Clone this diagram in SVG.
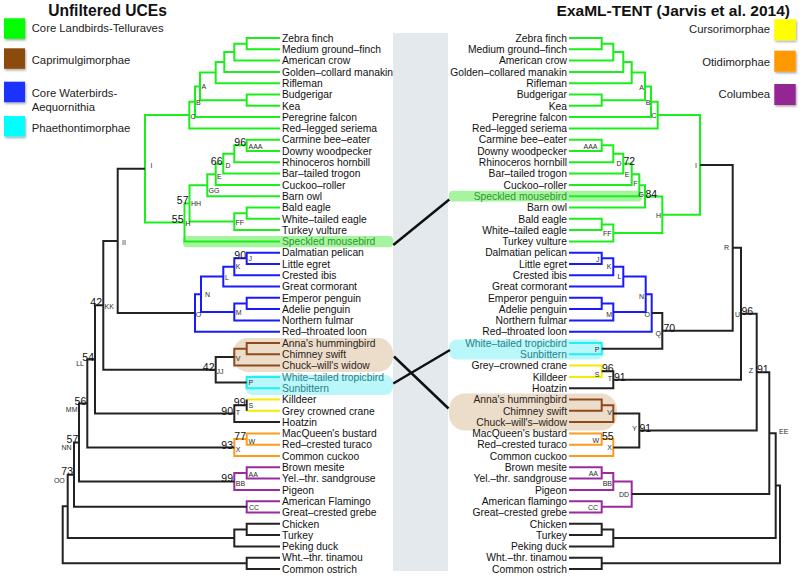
<svg xmlns="http://www.w3.org/2000/svg" width="800" height="577" viewBox="0 0 800 577">
<defs>
<filter id="sh" x="-20%" y="-20%" width="150%" height="150%"><feDropShadow dx="1" dy="1.5" stdDeviation="0.8" flood-color="#000" flood-opacity="0.35"/></filter>
</defs>
<style>
text{font-family:"Liberation Sans",Arial,sans-serif;fill:#111}
.t{font-size:10.3px}
.r{text-anchor:end}
.n{font-size:7px;fill:#2a2a2a}
.s{font-size:10.5px}
.lg{font-size:11.3px;fill:#222}
.ti{font-size:15.6px;font-weight:bold;text-anchor:middle}
.b{fill:none;stroke-width:2;stroke-linejoin:miter;stroke-linecap:butt}
.k{stroke:#222}
.gr{stroke:#1aef1a}
.bl{stroke:#1a1aff}
.br{stroke:#8f4a1c}
.cy{stroke:#22eef5}
.ye{stroke:#f2ee00}
.or{stroke:#ff9a1a}
.pu{stroke:#9a2aa0}
.x{fill:none;stroke:#111;stroke-width:2.5}
.mb{fill:#2a9a2a}
.pt{fill:#2c8288}
.cp{fill:#2b2520}
</style>
<rect width="800" height="577" fill="#fff"/>
<rect id="band" x="393" y="33" width="55" height="538" fill="#e3e9ec"/>
<g id="highlights">
<rect x="183" y="236" width="210" height="11.3" rx="4" fill="#a6f3a0"/>
<rect x="233" y="338" width="160" height="34" rx="15" fill="#ecdcca"/>
<rect x="245" y="375" width="148" height="20" rx="8" fill="#b9f7fa"/>
<rect x="449" y="190.8" width="193" height="10.8" rx="4" fill="#a6f3a0"/>
<rect x="449" y="339.5" width="155" height="20" rx="8" fill="#b9f7fa"/>
<rect x="449" y="393.5" width="168" height="37" rx="16" fill="#ecdcca"/>
</g>
<g id="connectors">
<path class="b gr" d="M280 38H246.7V49.3H280M246.7 43.65H234.3V60.6H280M234.3 52.1H224.3V71.9H280M224.3 62H215.7V83.2H280M280 94.5H246.7V105.8H280M215.7 72.6H200V100.15H246.7M200 86.4H195V117.1H280M195 101.75H189.3V128.4H280M280 139.7H246.7V151H280M246.7 145.35H234.3V162.3H280M234.3 153.8H223.3V173.6H280M223.3 163.7H215.7V184.9H280M215.7 174.3H207.3V196.2H280M280 207.5H246.7V218.8H280M246.7 213.15H234.3V230.1H280M207.3 185.25H189.5V221.6H234.3M189.5 203.4H184.5V241.4H280M189.3 115.1H145V222.4H184.5"/>
<path class="b bl" d="M280 252.7H246.7V263.9H280M246.7 258.3H234.3V275.2H280M234.3 266.75H223.3V286.5H280M280 297.8H246.7V309.1H280M246.7 303.45H234.3V320.4H280M223.3 276.6H201V311.9H234.3M201 294.25H195V331.7H280"/>
<path class="b br" d="M280 343H246.7V354.3H280M246.7 348.65H234.3V365.6H280"/>
<path class="b cy" d="M280 376.9H246.7V388.2H280"/>
<path class="b ye" d="M246.7 399.5H280M246.7 410.8H280"/>
<path class="b or" d="M280 433.4H246.7V444.7H280M246.7 439.05H234.3V456H280"/>
<path class="b pu" d="M280 467.3H246.7V478.6H280M246.7 472.95H234.3V489.9H280M280 501.2H246.7V512.5H280"/>
<path class="b k" d="M145 168.75H117.7V313H195M234.3 357.1H215.7V382.55H246.7M117.7 240.9H103.3V369.8H215.7M246.7 399.5V410.8M246.7 405.15H234.3V422.1H280M103.3 305.35H95V413.6H234.3M95 359.5H87.3V447.5H234.3M87.3 403.5H79V481.4H234.3M79 442.45H74V506.85H246.7M280 523.8H246.7V535.1H280M246.7 529.45H234.3V546.4H280M74 474.65H67.7V537.9H234.3M280 557.7H246.7V569H280M67.7 506.3H62.7V563.35H246.7"/>
<path class="b gr" d="M569 38H601.7V49.3H569M601.7 43.65H613.3V60.6H569M613.3 52.1H623.3V71.9H569M623.3 62H631.7V83.2H569M569 94.5H601.7V105.8H569M631.7 72.6H645V100.15H601.7M645 86.4H651V117.1H569M651 101.75H657.7V128.4H569M569 139.7H601.7V151H569M601.7 145.35H613.3V162.3H569M613.3 153.8H623.3V173.6H569M623.3 163.7H631.7V184.9H569M631.7 174.3H639.3V196.2H569M639.3 185.25H645V207.5H569M569 218.8H601.7V230.1H569M601.7 224.45H613.3V241.4H569M645 196.4H662.3V232.9H613.3M657.7 115.1H700V214.65H662.3"/>
<path class="b bl" d="M569 252.7H601.7V263.9H569M601.7 258.3H613.3V275.2H569M613.3 266.75H623.3V286.5H569M569 297.8H601.7V309.1H569M601.7 303.45H613.3V320.4H569M623.3 276.6H645.7V311.9H613.3M645.7 294.25H651.7V331.7H569"/>
<path class="b cy" d="M569 343H601.7V354.3H569"/>
<path class="b ye" d="M569 365.6H601.7V376.9H569"/>
<path class="b br" d="M569 399.5H601.7V410.8H569M601.7 405.15H613.3V422.1H569"/>
<path class="b or" d="M569 433.4H601.7V444.7H569M601.7 439.05H613.3V456H569"/>
<path class="b pu" d="M569 467.3H601.7V478.6H569M601.7 472.95H613.3V489.9H569M569 501.2H601.7V512.5H569M613.3 481.4H631.7V506.85H601.7"/>
<path class="b k" d="M651.7 313H662.3V348.65H601.7M700 164.9H732.7V330.8H662.3M601.7 371.25H613.3V388.2H569M732.7 247.85H741V379.7H613.3M613.3 413.6H639.3V447.5H613.3M741 313.8H756.7V430.55H639.3M756.7 372.2H769.3V494.1H631.7M569 523.8H601.7V535.1H569M601.7 529.45H613.3V546.4H569M769.3 433.15H775.7V537.9H613.3M569 557.7H601.7V569H569M775.7 485.5H780V563.35H601.7"/>
<path class="x" d="M393.3 245L449.3 199.5M394 356.5L448.5 408.5M393.3 383.5L450 350"/>
</g>
<g id="titles">
<text class="ti" x="107.5" y="15.5">Unfiltered UCEs</text>
<text class="ti" x="673.3" y="15.5" style="font-size:15.5px">ExaML-TENT (Jarvis et al. 2014)</text>
</g>
<g id="legend-left">
<g id="lg-telluraves"><rect x="4" y="18.3" width="21" height="20.5" fill="#00ff00" filter="url(#sh)"/><text class="lg" x="31.7" y="32.4">Core Landbirds-Telluraves</text></g>
<g id="lg-caprimulgimorphae"><rect x="4" y="48.3" width="21" height="20.5" fill="#8c4c10" filter="url(#sh)"/><text class="lg" x="31.7" y="64.1">Caprimulgimorphae</text></g>
<g id="lg-aequornithia"><rect x="4" y="81.7" width="21" height="20.5" fill="#1a33ff" filter="url(#sh)"/><text class="lg" x="31.7" y="96.8">Core Waterbirds-</text><text class="lg" x="31.7" y="110.8">Aequornithia</text></g>
<g id="lg-phaethontimorphae"><rect x="4" y="116" width="21" height="20.5" fill="#00ffff" filter="url(#sh)"/><text class="lg" x="31.7" y="131.8">Phaethontimorphae</text></g>
</g>
<g id="legend-right">
<g id="lg-cursorimorphae"><rect x="774.3" y="19.3" width="21.4" height="21" fill="#ffff00" filter="url(#sh)"/><text class="lg r" x="770" y="33.4">Cursorimorphae</text></g>
<g id="lg-otidimorphae"><rect x="774.3" y="50.7" width="21.4" height="21" fill="#ff9900" filter="url(#sh)"/><text class="lg r" x="770" y="65.8">Otidimorphae</text></g>
<g id="lg-columbea"><rect x="774.3" y="84" width="21.4" height="21" fill="#942894" filter="url(#sh)"/><text class="lg r" x="770" y="98.1">Columbea</text></g>
</g>
<g id="left-taxa" class="t">
<g id="L01"><text class="t" x="282" y="41.7">Zebra finch</text></g>
<g id="L02"><text class="t" x="282" y="53">Medium ground–finch</text></g>
<g id="L03"><text class="t" x="282" y="64.3">American crow</text></g>
<g id="L04"><text class="t" x="282" y="75.6">Golden–collard manakin</text></g>
<g id="L05"><text class="t" x="282" y="86.9">Rifleman</text></g>
<g id="L06"><text class="t" x="282" y="98.2">Budgerigar</text></g>
<g id="L07"><text class="t" x="282" y="109.5">Kea</text></g>
<g id="L08"><text class="t" x="282" y="120.8">Peregrine falcon</text></g>
<g id="L09"><text class="t" x="282" y="132.1">Red–legged seriema</text></g>
<g id="L10"><text class="t" x="282" y="143.4">Carmine bee–eater</text></g>
<g id="L11"><text class="t" x="282" y="154.7">Downy woodpecker</text></g>
<g id="L12"><text class="t" x="282" y="166">Rhinoceros hornbill</text></g>
<g id="L13"><text class="t" x="282" y="177.3">Bar–tailed trogon</text></g>
<g id="L14"><text class="t" x="282" y="188.6">Cuckoo–roller</text></g>
<g id="L15"><text class="t" x="282" y="199.9">Barn owl</text></g>
<g id="L16"><text class="t" x="282" y="211.2">Bald eagle</text></g>
<g id="L17"><text class="t" x="282" y="222.5">White–tailed eagle</text></g>
<g id="L18"><text class="t" x="282" y="233.8">Turkey vulture</text></g>
<g id="L19"><text class="t mb" x="282" y="245.1">Speckled mousebird</text></g>
<g id="L20"><text class="t" x="282" y="256.4">Dalmatian pelican</text></g>
<g id="L21"><text class="t" x="282" y="267.6">Little egret</text></g>
<g id="L22"><text class="t" x="282" y="278.9">Crested ibis</text></g>
<g id="L23"><text class="t" x="282" y="290.2">Great cormorant</text></g>
<g id="L24"><text class="t" x="282" y="301.5">Emperor penguin</text></g>
<g id="L25"><text class="t" x="282" y="312.8">Adelie penguin</text></g>
<g id="L26"><text class="t" x="282" y="324.1">Northern fulmar</text></g>
<g id="L27"><text class="t" x="282" y="335.4">Red–throated loon</text></g>
<g id="L28"><text class="t cp" x="282" y="346.7">Anna's hummingbird</text></g>
<g id="L29"><text class="t cp" x="282" y="358">Chimney swift</text></g>
<g id="L30"><text class="t cp" x="282" y="369.3">Chuck–will's widow</text></g>
<g id="L31"><text class="t pt" x="282" y="380.6">White–tailed tropicbird</text></g>
<g id="L32"><text class="t pt" x="282" y="391.9">Sunbittern</text></g>
<g id="L33"><text class="t" x="282" y="403.2">Killdeer</text></g>
<g id="L34"><text class="t" x="282" y="414.5">Grey crowned crane</text></g>
<g id="L35"><text class="t" x="282" y="425.8">Hoatzin</text></g>
<g id="L36"><text class="t" x="282" y="437.1">MacQueen's bustard</text></g>
<g id="L37"><text class="t" x="282" y="448.4">Red–crested turaco</text></g>
<g id="L38"><text class="t" x="282" y="459.7">Common cuckoo</text></g>
<g id="L39"><text class="t" x="282" y="471">Brown mesite</text></g>
<g id="L40"><text class="t" x="282" y="482.3">Yel.–thr. sandgrouse</text></g>
<g id="L41"><text class="t" x="282" y="493.6">Pigeon</text></g>
<g id="L42"><text class="t" x="282" y="504.9">American Flamingo</text></g>
<g id="L43"><text class="t" x="282" y="516.2">Great–crested grebe</text></g>
<g id="L44"><text class="t" x="282" y="527.5">Chicken</text></g>
<g id="L45"><text class="t" x="282" y="538.8">Turkey</text></g>
<g id="L46"><text class="t" x="282" y="550.1">Peking duck</text></g>
<g id="L47"><text class="t" x="282" y="561.4">Wht.–thr. tinamou</text></g>
<g id="L48"><text class="t" x="282" y="572.7">Common ostrich</text></g>
</g>
<g id="right-taxa">
<g id="R01"><text class="t r" x="567" y="41.7">Zebra finch</text></g>
<g id="R02"><text class="t r" x="567" y="53">Medium ground–finch</text></g>
<g id="R03"><text class="t r" x="567" y="64.3">American crow</text></g>
<g id="R04"><text class="t r" x="567" y="75.6">Golden–collared manakin</text></g>
<g id="R05"><text class="t r" x="567" y="86.9">Rifleman</text></g>
<g id="R06"><text class="t r" x="567" y="98.2">Budgerigar</text></g>
<g id="R07"><text class="t r" x="567" y="109.5">Kea</text></g>
<g id="R08"><text class="t r" x="567" y="120.8">Peregrine falcon</text></g>
<g id="R09"><text class="t r" x="567" y="132.1">Red–legged seriema</text></g>
<g id="R10"><text class="t r" x="567" y="143.4">Carmine bee–eater</text></g>
<g id="R11"><text class="t r" x="567" y="154.7">Downy woodpecker</text></g>
<g id="R12"><text class="t r" x="567" y="166">Rhinoceros hornbill</text></g>
<g id="R13"><text class="t r" x="567" y="177.3">Bar–tailed trogon</text></g>
<g id="R14"><text class="t r" x="567" y="188.6">Cuckoo–roller</text></g>
<g id="R15"><text class="t r mb" x="567" y="199.9">Speckled mousebird</text></g>
<g id="R16"><text class="t r" x="567" y="211.2">Barn owl</text></g>
<g id="R17"><text class="t r" x="567" y="222.5">Bald eagle</text></g>
<g id="R18"><text class="t r" x="567" y="233.8">White–tailed eagle</text></g>
<g id="R19"><text class="t r" x="567" y="245.1">Turkey vulture</text></g>
<g id="R20"><text class="t r" x="567" y="256.4">Dalmatian pelican</text></g>
<g id="R21"><text class="t r" x="567" y="267.6">Little egret</text></g>
<g id="R22"><text class="t r" x="567" y="278.9">Crested ibis</text></g>
<g id="R23"><text class="t r" x="567" y="290.2">Great cormorant</text></g>
<g id="R24"><text class="t r" x="567" y="301.5">Emperor penguin</text></g>
<g id="R25"><text class="t r" x="567" y="312.8">Adelie penguin</text></g>
<g id="R26"><text class="t r" x="567" y="324.1">Northern fulmar</text></g>
<g id="R27"><text class="t r" x="567" y="335.4">Red–throated loon</text></g>
<g id="R28"><text class="t r pt" x="567" y="346.7">White–tailed tropicbird</text></g>
<g id="R29"><text class="t r pt" x="567" y="358">Sunbittern</text></g>
<g id="R30"><text class="t r" x="567" y="369.3">Grey–crowned crane</text></g>
<g id="R31"><text class="t r" x="567" y="380.6">Killdeer</text></g>
<g id="R32"><text class="t r" x="567" y="391.9">Hoatzin</text></g>
<g id="R33"><text class="t r cp" x="567" y="403.2">Anna's hummingbird</text></g>
<g id="R34"><text class="t r cp" x="567" y="414.5">Chimney swift</text></g>
<g id="R35"><text class="t r cp" x="567" y="425.8">Chuck–will's–widow</text></g>
<g id="R36"><text class="t r" x="567" y="437.1">MacQueen's bustard</text></g>
<g id="R37"><text class="t r" x="567" y="448.4">Red–crested turaco</text></g>
<g id="R38"><text class="t r" x="567" y="459.7">Common cuckoo</text></g>
<g id="R39"><text class="t r" x="567" y="471">Brown mesite</text></g>
<g id="R40"><text class="t r" x="567" y="482.3">Yel.–thr. sandgrouse</text></g>
<g id="R41"><text class="t r" x="567" y="493.6">Pigeon</text></g>
<g id="R42"><text class="t r" x="567" y="504.9">American flamingo</text></g>
<g id="R43"><text class="t r" x="567" y="516.2">Great–crested grebe</text></g>
<g id="R44"><text class="t r" x="567" y="527.5">Chicken</text></g>
<g id="R45"><text class="t r" x="567" y="538.8">Turkey</text></g>
<g id="R46"><text class="t r" x="567" y="550.1">Peking duck</text></g>
<g id="R47"><text class="t r" x="567" y="561.4">Wht.–thr. tinamou</text></g>
<g id="R48"><text class="t r" x="567" y="572.7">Common ostrich</text></g>
</g>
<g id="left-node-labels">
<text class="n" x="201.5" y="89">A</text>
<text class="n" x="196" y="104.8">B</text>
<text class="n" x="190.5" y="118.5">C</text>
<text class="n" x="150.5" y="167.5">I</text>
<text class="n" x="248.5" y="149.2">AAA</text>
<text class="n" x="225.5" y="167.5">D</text>
<text class="n" x="217" y="178.5">E</text>
<text class="n" x="208.5" y="192.5">GG</text>
<text class="n" x="191" y="205.8">HH</text>
<text class="n" x="235.5" y="224.8">FF</text>
<text class="n" x="185.5" y="225.8">H</text>
<text class="n" x="122" y="244.8">II</text>
<text class="n" x="248.5" y="260.5">J</text>
<text class="n" x="235.8" y="269.2">K</text>
<text class="n" x="225" y="280.2">L</text>
<text class="n" x="205" y="296.8">N</text>
<text class="n" x="235.8" y="314.8">M</text>
<text class="n" x="195.8" y="316.5">O</text>
<text class="n" x="104.5" y="308.5">KK</text>
<text class="n" x="235.8" y="360.8">V</text>
<text class="n" x="216.5" y="374.2">JJ</text>
<text class="n" x="248.5" y="385.2">P</text>
<text class="n r" x="84" y="365.8">LL</text>
<text class="n" x="248.5" y="407.5">S</text>
<text class="n" x="235.8" y="414.8">T</text>
<text class="n r" x="77.5" y="411.8">MM</text>
<text class="n" x="248.5" y="443.5">W</text>
<text class="n" x="235.8" y="451.5">X</text>
<text class="n r" x="71.5" y="450.2">NN</text>
<text class="n" x="248.5" y="476.5">AA</text>
<text class="n" x="235.8" y="485.5">BB</text>
<text class="n" x="249" y="509.5">CC</text>
<text class="n r" x="64.8" y="483">OO</text>
</g>
<g id="left-support">
<text class="s r" x="246" y="146">96</text>
<text class="s r" x="222.5" y="164.5">66</text>
<text class="s r" x="188.5" y="204.3">57</text>
<text class="s r" x="183.5" y="223.2">55</text>
<text class="s r" x="102" y="306.3">42</text>
<text class="s r" x="246" y="259">90</text>
<text class="s r" x="214.5" y="370.8">42</text>
<text class="s r" x="94" y="360.5">54</text>
<text class="s r" x="245.5" y="405.5">99</text>
<text class="s r" x="233" y="414.5">90</text>
<text class="s r" x="86.3" y="404.5">56</text>
<text class="s r" x="246" y="439.5">77</text>
<text class="s r" x="233" y="448.5">93</text>
<text class="s r" x="78.3" y="443.4">57</text>
<text class="s r" x="233" y="482.3">99</text>
<text class="s r" x="73" y="475.3">73</text>
</g>
<g id="right-node-labels">
<text class="n r" x="644" y="89.8">A</text>
<text class="n r" x="650.5" y="104.8">B</text>
<text class="n r" x="656.5" y="118.2">C</text>
<text class="n r" x="597.5" y="149.2">AAA</text>
<text class="n r" x="621.5" y="165.8">D</text>
<text class="n r" x="629.5" y="176.5">E</text>
<text class="n r" x="637.5" y="186.3">F</text>
<text class="n r" x="644" y="196.8">G</text>
<text class="n r" x="661" y="217.5">H</text>
<text class="n r" x="611.5" y="235.8">FF</text>
<text class="n r" x="697" y="167.5">I</text>
<text class="n r" x="599.5" y="262.2">J</text>
<text class="n r" x="611.5" y="269.2">K</text>
<text class="n r" x="621.3" y="279.2">L</text>
<text class="n r" x="612" y="316.5">M</text>
<text class="n r" x="644" y="298.5">N</text>
<text class="n r" x="650" y="316.5">O</text>
<text class="n r" x="661" y="335.8">Q</text>
<text class="n r" x="729" y="249.8">R</text>
<text class="n r" x="740" y="316.8">U</text>
<text class="n r" x="599.5" y="351.8">P</text>
<text class="n r" x="599.5" y="376.8">S</text>
<text class="n r" x="612" y="380.8">T</text>
<text class="n r" x="753" y="372.5">Z</text>
<text class="n r" x="612" y="414.8">V</text>
<text class="n r" x="637" y="430.8">Y</text>
<text class="n r" x="599" y="442.5">W</text>
<text class="n r" x="612" y="450.2">X</text>
<text class="n r" x="598" y="475.8">AA</text>
<text class="n r" x="612" y="485.8">BB</text>
<text class="n r" x="598" y="509.8">CC</text>
<text class="n r" x="629" y="496.5">DD</text>
<text class="n" x="779" y="434.2">EE</text>
</g>
<g id="right-support">
<text class="s" x="623.5" y="165">72</text>
<text class="s" x="645.5" y="197.5">84</text>
<text class="s" x="663.5" y="332">70</text>
<text class="s" x="741.5" y="314.5">96</text>
<text class="s" x="602" y="371.8">96</text>
<text class="s" x="614" y="380.7">91</text>
<text class="s" x="757" y="373">91</text>
<text class="s" x="639.5" y="431.8">91</text>
<text class="s" x="602" y="440">55</text>
</g>
</svg>
